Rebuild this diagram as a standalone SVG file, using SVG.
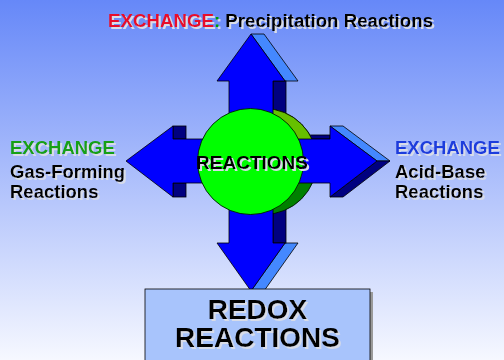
<svg xmlns="http://www.w3.org/2000/svg" width="504" height="360" viewBox="0 0 504 360">
<defs>
<linearGradient id="bg" x1="0" y1="0" x2="0" y2="1">
<stop offset="0" stop-color="#6688F8"/>
<stop offset="1" stop-color="#F6F8FF"/>
</linearGradient>
<clipPath id="upper"><rect x="0" y="0" width="504" height="161"/></clipPath>
<filter id="ts" x="-5%" y="-20%" width="110%" height="140%">
<feOffset in="SourceAlpha" dx="1.5" dy="1.5" result="off"/>
<feFlood flood-color="#D8DCE8"/>
<feComposite in2="off" operator="in" result="shadow"/>
<feMerge><feMergeNode in="shadow"/><feMergeNode in="SourceGraphic"/></feMerge>
</filter>
<style>
.t{font-family:"Liberation Sans",Arial,sans-serif;font-weight:bold;filter:url(#ts)}
.lit{fill:#4488FF;stroke:#000;stroke-width:0.8}
.dark{fill:#000080;stroke:#000;stroke-width:0.8}
.front{fill:#0000FF;stroke:#000;stroke-width:0.8}
</style>
</defs>
<rect width="504" height="360" fill="url(#bg)"/>

<g id="top-label">
<text class="t" font-size="18.7" x="108" y="27"><tspan fill="#E8102C">EXCHANGE</tspan><tspan fill="#00A000">:</tspan><tspan fill="#000"> Precipitation Reactions</tspan></text>
</g>

<g id="left-label">
<text class="t" font-size="18.5" x="10" y="154" fill="#14A014">EXCHANGE</text>
<text class="t" font-size="18.5" x="10" y="178" fill="#000">Gas-Forming</text>
<text class="t" font-size="18.5" x="10" y="198" fill="#000">Reactions</text>
</g>

<g id="right-label">
<text class="t" font-size="18.5" x="395" y="154" fill="#1E3CDC">EXCHANGE</text>
<text class="t" font-size="18.5" x="395" y="178" fill="#000">Acid-Base</text>
<text class="t" font-size="18.5" x="395" y="198" fill="#000">Reactions</text>
</g>

<g id="arrows">
<polygon class="lit" points="251,34 264,34 298,81 285,81"/>
<rect class="dark" x="273" y="81" width="13" height="59"/>
<polygon class="lit" points="330,126 343,126 390,161 377,161"/>
<polygon class="dark" points="377,161 390,161 343,197 330,197"/>
<rect class="dark" x="300" y="135" width="30" height="4"/>
<rect class="dark" x="173" y="126" width="13" height="13"/>
<rect class="dark" x="173" y="183" width="13" height="14"/>
<polygon class="lit" points="285,243 298,243 264,291 251,291"/>
<rect class="dark" x="273" y="183" width="13" height="60"/>
</g>

<g id="reactions-back">
<circle cx="264" cy="161.5" r="53" fill="#008000" stroke="#000" stroke-width="0.8"/>
<circle cx="264" cy="161.5" r="53" fill="#66C000" stroke="#000" stroke-width="0.8" clip-path="url(#upper)"/>
</g>

<g id="cross">
<polygon class="front" points="251,34 285,81 273,81 273,139 330,139 330,126 377,161 330,197 330,183 273,183 273,243 285,243 251,291 217,243 229,243 229,183 173,183 173,197 126,161 173,126 173,139 229,139 229,81 217,81"/>
</g>

<g id="reactions">
<circle cx="250.5" cy="161.5" r="53" fill="#00FF00" stroke="#000" stroke-width="0.8"/>
<text class="t" x="252" y="169" font-size="19" text-anchor="middle" fill="#000">REACTIONS</text>
</g>

<g id="redox">
<rect x="148" y="292" width="225" height="80" fill="#9A9A9A"/>
<rect x="145" y="289" width="225" height="80" fill="#A8C4FC" stroke="#000" stroke-width="0.8"/>
<text class="t" x="257.5" y="319" font-size="28" text-anchor="middle" fill="#000">REDOX</text>
<text class="t" x="257.5" y="346.5" font-size="28" text-anchor="middle" fill="#000">REACTIONS</text>
</g>
</svg>
